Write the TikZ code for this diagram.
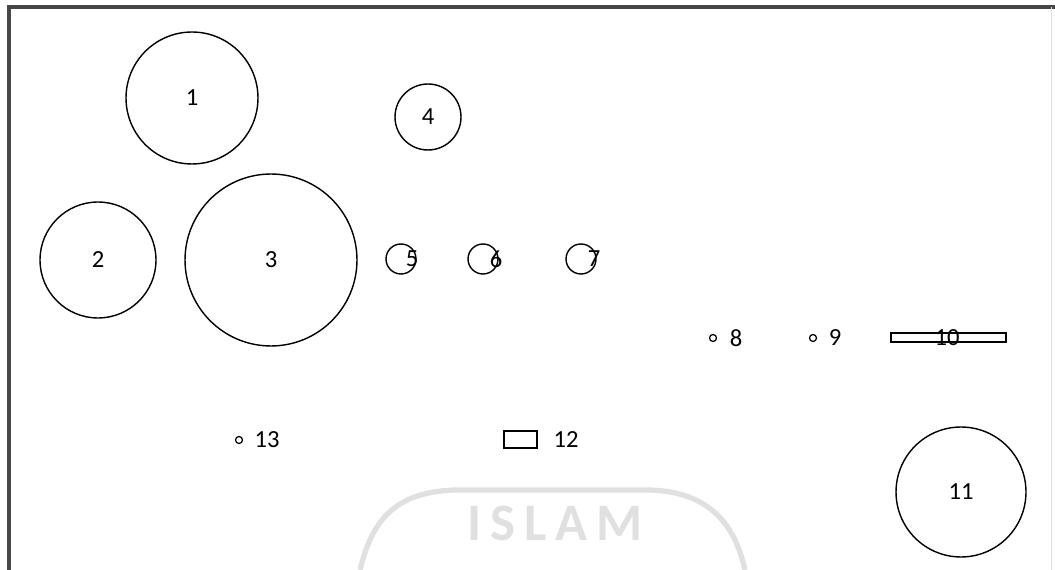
\documentclass[tikz,border=0pt]{standalone}
\usepackage{fontspec}
\setmainfont{Carlito}
\definecolor{framegray}{RGB}{70, 70, 70}
\definecolor{markgray}{RGB}{224, 224, 224}

\begin{document}
\begin{tikzpicture}[x=0.02cm, y=-0.02cm,
    part/.style={draw, circle, line width=0.8pt, inner sep=0pt},
    bar/.style={draw, rectangle, line width=0.8pt, inner sep=0pt},
    num/.style={inner sep=0pt, font=\fontsize{14}{16}\selectfont}]
    \useasboundingbox (0,0) rectangle (1055,570);

    % Frame
    \draw[framegray, line width=1.8pt] (9,570) -- (9,7) -- (1055,7);
    \draw[gray!25, line width=0.5pt] (1051,7) -- (1051,570);

    % Watermark
    \node[markgray, inner sep=0pt, font=\fontsize{30}{32}\selectfont\bfseries] (mark) at (555,523) {I\,S\,L\,A\,M};
    \draw[markgray, line width=3pt] (360,570) .. controls (372,520) and (395,492) .. (455,490)
        -- (650,490) .. controls (710,492) and (735,525) .. (745,570);

    % Large circles
    \node[part, minimum size=2.64cm] (c1) at (192,98) {};
    \node[num] (n1) at (c1) {1};
    \node[part, minimum size=2.32cm] (c2) at (98,260) {};
    \node[num] (n2) at (c2) {2};
    \node[part, minimum size=3.44cm] (c3) at (271,260) {};
    \node[num] (n3) at (c3) {3};
    \node[part, minimum size=1.32cm] (c4) at (428,117) {};
    \node[num] (n4) at (c4) {4};
    \node[part, minimum size=2.6cm] (c11) at (961,492) {};
    \node[num] (n11) at (c11) {11};

    % Small circles
    \node[part, minimum size=0.6cm] (c5) at (401,259) {};
    \node[num] (n5) at (412,259) {5};
    \node[part, minimum size=0.6cm] (c6) at (483,259) {};
    \node[num] (n6) at (496,259) {6};
    \node[part, minimum size=0.6cm] (c7) at (581,259) {};
    \node[num] (n7) at (594,259) {7};

    % Tiny circles
    \node[part, minimum size=0.14cm, line width=0.7pt] (c8) at (713,338) {};
    \node[num] (n8) at (736,338) {8};
    \node[part, minimum size=0.14cm, line width=0.7pt] (c9) at (813,338) {};
    \node[num] (n9) at (835,338) {9};
    \node[part, minimum size=0.14cm, line width=0.7pt] (c13) at (239,440) {};
    \node[num] (n13) at (267,440) {13};

    % Rectangles
    \node[bar, minimum width=2.3cm, minimum height=0.18cm] (r10) at (948.5,337.5) {};
    \node[num] (n10) at (947,338) {10};
    \node[bar, minimum width=0.66cm, minimum height=0.34cm] (r12) at (520.5,439.5) {};
    \node[num] (n12) at (566,440) {12};
  \end{tikzpicture}
\end{document}
